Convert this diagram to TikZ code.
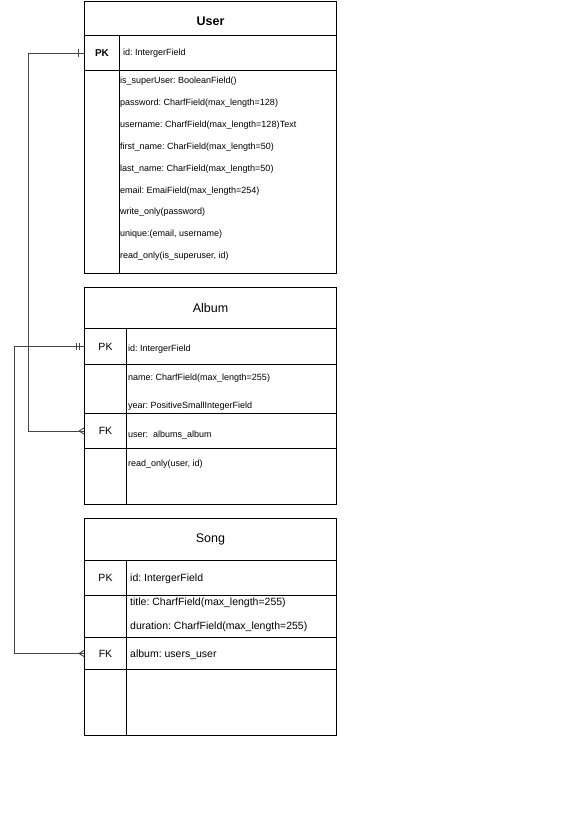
\documentclass[tikz,border=0pt]{standalone}
\usepackage{fontspec}
\setmainfont{Liberation Sans}
\usetikzlibrary{decorations.markings}
\definecolor{linkgray}{HTML}{444444}
\frenchspacing
\begin{document}
\begin{tikzpicture}[x=1pt,y=-1pt,
  cell/.style 2 args={draw=black, line width=1pt, inner sep=0pt, anchor=north west,
    minimum width=#1pt, minimum height=#2pt},
  ttl/.style={font=\fontsize{12.5}{14}\selectfont},
  keyb/.style={font=\bfseries\fontsize{10}{12}\selectfont},
  keyr/.style={font=\fontsize{10.5}{12}\selectfont},
  % field rows: the given y is the visual middle of the line, the baseline sits below it
  fld/.style={anchor=base west, inner sep=0pt, font=\fontsize{9}{11}\selectfont, yshift=-3.2pt},
  fldl/.style={anchor=base west, inner sep=0pt, font=\fontsize{10.5}{12}\selectfont, yshift=-3.8pt},
  conn/.style={draw=linkgray, line width=1pt},
  onebar/.style={postaction={decorate, decoration={markings,
    mark=at position 6pt with {\draw[linkgray, line width=1pt] (0pt,-4pt) -- (0pt,4pt);}}}},
  twobar/.style={postaction={decorate, decoration={markings,
    mark=at position 5pt with {\draw[linkgray, line width=1pt] (0pt,-3.5pt) -- (0pt,3.5pt);},
    mark=at position 7.5pt with {\draw[linkgray, line width=1pt] (0pt,-3.5pt) -- (0pt,3.5pt);}}}},
  crowend/.style={postaction={decorate, decoration={markings,
    mark=at position 1 with {\draw[linkgray, line width=0.9pt] (-5pt,0pt) -- (0pt,3pt) (-5pt,0pt) -- (0pt,-3pt);}}}}
]
\useasboundingbox[fill=white] (0,0) rectangle (579,819);

% ---------- User ----------
\node[cell={252}{34}] (uTitle) at (84,1) {};
\node[font=\bfseries\fontsize{12.5}{14}\selectfont, yshift=-2.5pt] (uName) at (uTitle.center) {User};
\node[cell={35}{35}, keyb] (uPK) at (84,35) {PK};
\node[cell={217}{35}] (uPKf) at (119,35) {};
\node[cell={35}{203}] (uBk) at (84,70) {};
\node[cell={217}{203}] (uBf) at (119,70) {};
\node[fld] (uId) at (123,52) {id: IntergerField};
\node[fld] (u1) at (120,80) {is\_superUser: BooleanField()};
\node[fld] (u2) at (120,102) {password: CharfField(max\_length=128)};
\node[fld] (u3) at (120,124) {username: CharfField(max\_length=128)};
\node[anchor=base west, inner sep=0pt, font=\fontsize{9}{11}\selectfont] (u3t) at (u3.base east) {Text};
\node[fld] (u4) at (120,146) {first\_name: CharField(max\_length=50)};
\node[fld] (u5) at (120,168) {last\_name: CharField(max\_length=50)};
\node[fld] (u6) at (120,190) {email: EmaiField(max\_length=254)};
\node[fld] (u7) at (120,211) {write\_only(password)};
\node[fld] (u8) at (120,233) {unique:(email, username)};
\node[fld] (u9) at (120,255) {read\_only(is\_superuser, id)};

% ---------- Album ----------
\node[cell={252}{41}, ttl] (aTitle) at (84,287) {Album};
\node[cell={42}{36}, keyr] (aPK) at (84,328) {PK};
\node[cell={210}{36}] (aPKf) at (126,328) {};
\node[cell={42}{49}] (aF1k) at (84,364) {};
\node[cell={210}{49}] (aF1f) at (126,364) {};
\node[cell={42}{35}, keyr] (aFK) at (84,413) {FK};
\node[cell={210}{35}] (aFKf) at (126,413) {};
\node[cell={42}{56}] (aBk) at (84,448) {};
\node[cell={210}{56}] (aBf) at (126,448) {};
\node[fld] (aId) at (128,348) {id: IntergerField};
\node[fld] (a1) at (128,377) {name: CharfField(max\_length=255)};
\node[fld] (a2) at (128,405) {year: PositiveSmallIntegerField};
\node[fld] (a3) at (128,434) {user:\ \ albums\_album};
\node[fld] (a4) at (128,463) {read\_only(user, id)};

% ---------- Song ----------
\node[cell={252}{42}, ttl] (sTitle) at (84,518) {Song};
\node[cell={42}{35}, keyr] (sPK) at (84,560) {PK};
\node[cell={210}{35}] (sPKf) at (126,560) {};
\node[cell={42}{42}] (sF1k) at (84,595) {};
\node[cell={210}{42}] (sF1f) at (126,595) {};
\node[cell={42}{32}, keyr] (sFK) at (84,637) {FK};
\node[cell={210}{32}] (sFKf) at (126,637) {};
\node[cell={42}{66}] (sBk) at (84,669) {};
\node[cell={210}{66}] (sBf) at (126,669) {};
\node[fldl] (sId) at (130,578) {id: IntergerField};
\node[fldl] (s1) at (130,602) {title: CharfField(max\_length=255)};
\node[fldl] (s2) at (130,626) {duration: CharfField(max\_length=255)};
\node[fldl] (s3) at (130,654) {album: users\_user};

% ---------- Relations ----------
\draw[conn, onebar, crowend] (uPK.west) -- ++(-56,0) |- (aFK.west);
\draw[conn, twobar, crowend] (aPK.west) -- ++(-70,0) |- (sFK.west);
\end{tikzpicture}
\end{document}
